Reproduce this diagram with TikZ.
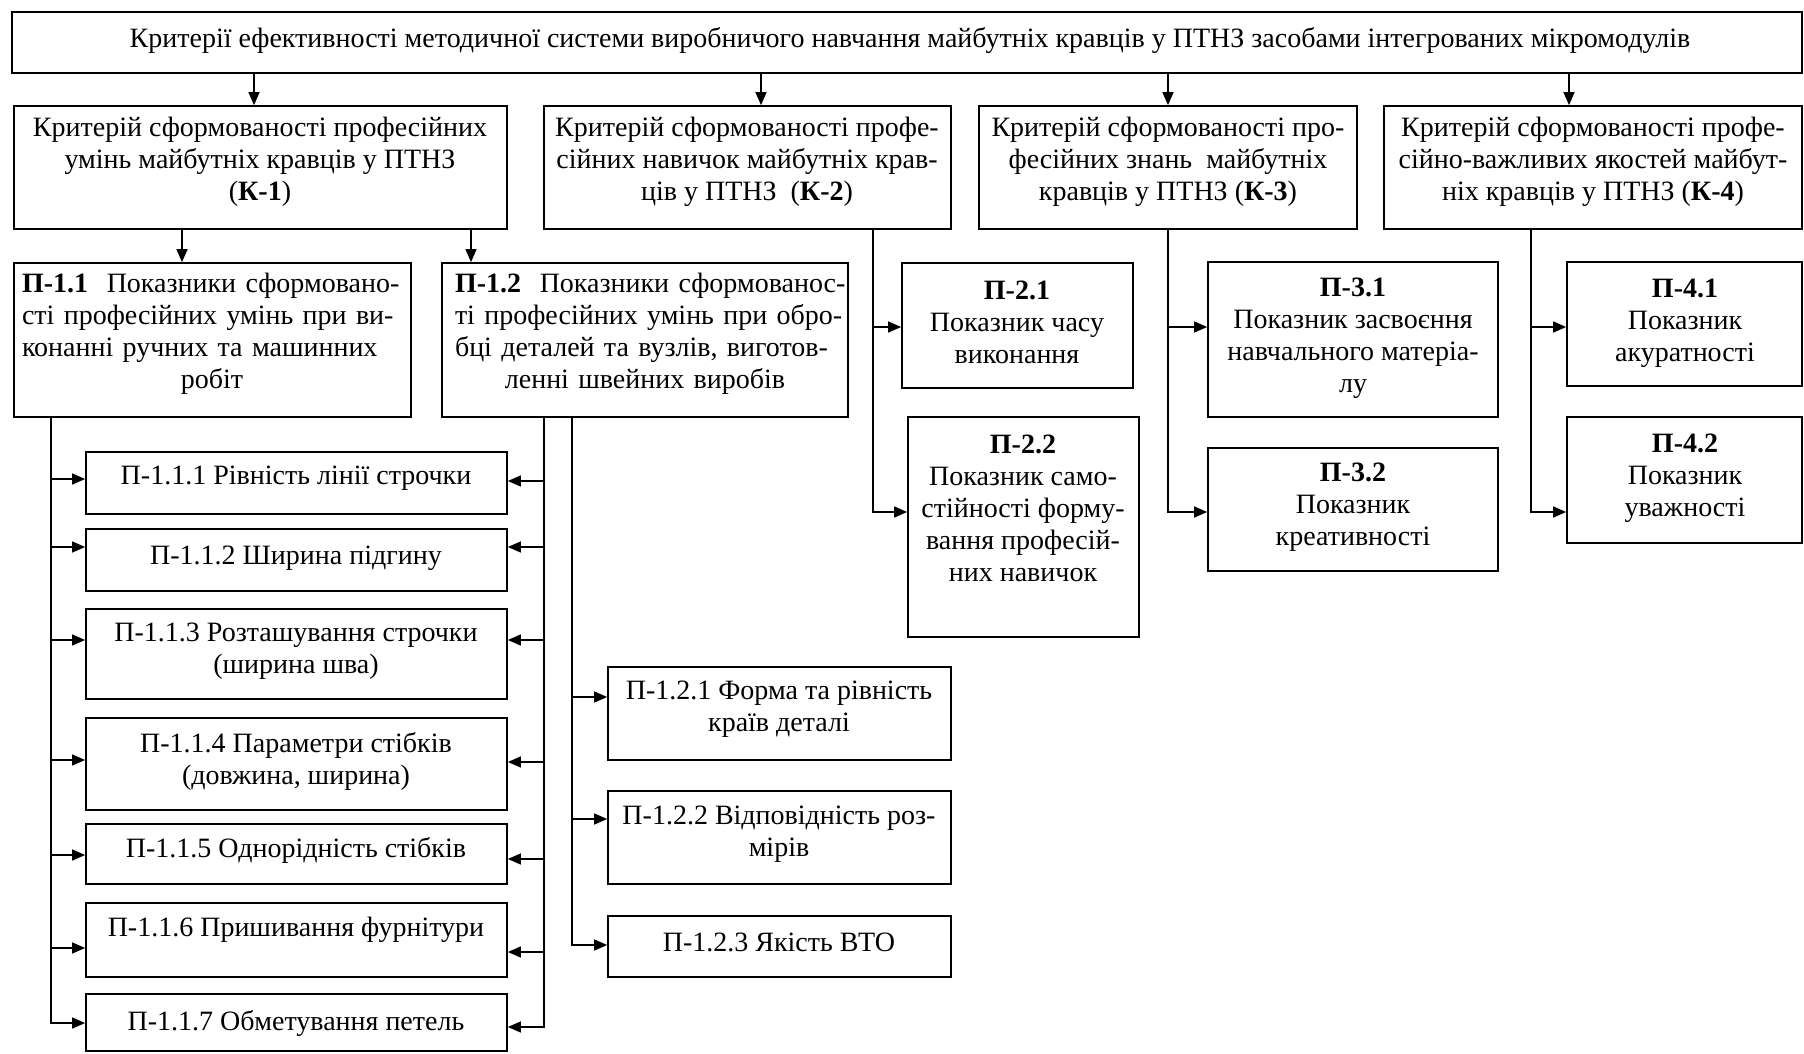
\documentclass[tikz,border=0pt]{standalone}
\usepackage{fontspec}
\setmainfont{Liberation Serif}
\usetikzlibrary{arrows.meta,fit}
\tikzset{
  boxf/.style={draw, line width=0.85pt, inner sep=0pt},
  txt/.style={font=\fontsize{14}{16}\selectfont, align=center, inner sep=0pt},
  jtxt/.style={txt, text width=190pt},
  arr/.style={line width=0.7pt, -{Triangle[length=6.5pt,width=5.5pt]}},
}
\begin{document}
\begin{tikzpicture}[x=0.5pt,y=-0.5pt]
\useasboundingbox (0,0) rectangle (1804,1054);
\fill[white] (0,0) rectangle (1804,1054);
% boxes
\node[boxf, fit={(12,12) (1802,73)}] (top) {};
\node[boxf, fit={(14,106) (507,229)}] (K1) {};
\node[boxf, fit={(544,106) (951,229)}] (K2) {};
\node[boxf, fit={(979,106) (1357,229)}] (K3) {};
\node[boxf, fit={(1384,106) (1802,229)}] (K4) {};
\node[boxf, fit={(14,263) (411,417)}] (P11) {};
\node[boxf, fit={(442,263) (848,417)}] (P12) {};
\node[boxf, fit={(902,263) (1133,388)}] (P21) {};
\node[boxf, fit={(908,417) (1139,637)}] (P22) {};
\node[boxf, fit={(1208,262) (1498,417)}] (P31) {};
\node[boxf, fit={(1208,448) (1498,571)}] (P32) {};
\node[boxf, fit={(1567,262) (1802,386)}] (P41) {};
\node[boxf, fit={(1567,417) (1802,543)}] (P42) {};
\node[boxf, fit={(86,452) (507,514)}] (P111) {};
\node[boxf, fit={(86,529) (507,591)}] (P112) {};
\node[boxf, fit={(86,609) (507,699)}] (P113) {};
\node[boxf, fit={(86,718) (507,810)}] (P114) {};
\node[boxf, fit={(86,824) (507,884)}] (P115) {};
\node[boxf, fit={(86,903) (507,977)}] (P116) {};
\node[boxf, fit={(86,994) (507,1051)}] (P117) {};
\node[boxf, fit={(608,667) (951,760)}] (P121) {};
\node[boxf, fit={(608,791) (951,884)}] (P122) {};
\node[boxf, fit={(608,916) (951,977)}] (P123) {};
% texts
\node[txt] (ttop) at (910,41) {Критерії ефективності методичної системи виробничого навчання майбутніх кравців у ПТНЗ засобами інтегрованих мікромодулів};
\node[txt] (tK1) at (260,162) {Критерій сформованості професійних\\умінь майбутніх кравців у ПТНЗ\\(\textbf{К-1})};
\node[txt] (tK2) at (747,162) {Критерій сформованості профе-\\сійних навичок майбутніх крав-\\ців у ПТНЗ~~(\textbf{К-2})};
\node[txt] (tK3) at (1168,162) {Критерій сформованості про-\\фесійних знань~~майбутніх\\кравців у ПТНЗ (\textbf{К-3})};
\node[txt] (tK4) at (1593,162) {Критерій сформованості профе-\\сійно-важливих якостей майбут-\\ніх кравців у ПТНЗ (\textbf{К-4})};
\node[jtxt] (tP11) at (212,334) {\makebox[\linewidth][s]{\textbf{П-1.1}~~Показники сформовано-}\\\makebox[\linewidth][s]{сті професійних умінь при ви-}\\\makebox[\linewidth][s]{конанні ручних та машинних}\\робіт};
\node[jtxt] (tP12) at (645,334) {\makebox[\linewidth][s]{\textbf{П-1.2}~~Показники сформованос-}\\\makebox[\linewidth][s]{ті професійних умінь при обро-}\\\makebox[\linewidth][s]{бці деталей та вузлів, виготов-}\\ленні швейних виробів};
\node[txt] (tP21) at (1017,322) {\textbf{П-2.1}\\Показник часу\\виконання};
\node[txt] (tP22) at (1023,508) {\textbf{П-2.2}\\Показник само-\\стійності форму-\\вання професій-\\них навичок};
\node[txt] (tP31) at (1353,338) {\textbf{П-3.1}\\Показник засвоєння\\навчального матеріа-\\лу};
\node[txt] (tP32) at (1353,507) {\textbf{П-3.2}\\Показник\\креативності};
\node[txt] (tP41) at (1685,323) {\textbf{П-4.1}\\Показник\\акуратності};
\node[txt] (tP42) at (1685,478) {\textbf{П-4.2}\\Показник\\уважності};
\node[txt] (tP111) at (296,478) {П-1.1.1 Рівність лінії строчки};
\node[txt] (tP112) at (296,558) {П-1.1.2 Ширина підгину};
\node[txt] (tP113) at (296,651) {П-1.1.3 Розташування строчки\\(ширина шва)};
\node[txt] (tP114) at (296,761) {П-1.1.4 Параметри стібків\\(довжина, ширина)};
\node[txt] (tP115) at (296,850) {П-1.1.5 Однорідність стібків};
\node[txt] (tP116) at (296,930) {П-1.1.6 Пришивання фурнітури};
\node[txt] (tP117) at (296,1023) {П-1.1.7 Обметування петель};
\node[txt] (tP121) at (779,709) {П-1.2.1 Форма та рівність\\країв деталі};
\node[txt] (tP122) at (779,834) {П-1.2.2 Відповідність роз-\\мірів};
\node[txt] (tP123) at (779,942) {П-1.2.3 Якість ВТО};
% connector coordinates
\coordinate (c1) at (254,0);
\coordinate (c2) at (761,0);
\coordinate (c3) at (1168,0);
\coordinate (c4) at (1569,0);
\coordinate (c5) at (182,0);
\coordinate (c6) at (471,0);
\coordinate (b2a) at (873,327);
\coordinate (b2b) at (873,512);
\coordinate (b3a) at (1168,327);
\coordinate (b3b) at (1168,512);
\coordinate (b4a) at (1531,327);
\coordinate (b4b) at (1531,512);
\coordinate (L1) at (51,479);
\coordinate (L2) at (51,547);
\coordinate (L3) at (51,640);
\coordinate (L4) at (51,760);
\coordinate (L5) at (51,855);
\coordinate (L6) at (51,948);
\coordinate (L7) at (51,1023);
\coordinate (R1) at (544,481);
\coordinate (R2) at (544,547);
\coordinate (R3) at (544,640);
\coordinate (R4) at (544,762);
\coordinate (R5) at (544,859);
\coordinate (R6) at (544,952);
\coordinate (R7) at (544,1027);
\coordinate (S1) at (572,697);
\coordinate (S2) at (572,819);
\coordinate (S3) at (572,945);
% connectors
\draw[arr] (top.south -| c1) -- (K1.north -| c1);
\draw[arr] (top.south -| c2) -- (K2.north -| c2);
\draw[arr] (top.south -| c3) -- (K3.north -| c3);
\draw[arr] (top.south -| c4) -- (K4.north -| c4);
\draw[arr] (K1.south -| c5) -- (P11.north -| c5);
\draw[arr] (K1.south -| c6) -- (P12.north -| c6);
\draw[arr] (K2.south -| b2a) |- (P21.west |- b2a);
\draw[arr] (K2.south -| b2b) |- (P22.west |- b2b);
\draw[arr] (K3.south -| b3a) |- (P31.west |- b3a);
\draw[arr] (K3.south -| b3b) |- (P32.west |- b3b);
\draw[arr] (K4.south -| b4a) |- (P41.west |- b4a);
\draw[arr] (K4.south -| b4b) |- (P42.west |- b4b);
\draw[arr] (P11.south -| L1) |- (P111.west |- L1);
\draw[arr] (P11.south -| L2) |- (P112.west |- L2);
\draw[arr] (P11.south -| L3) |- (P113.west |- L3);
\draw[arr] (P11.south -| L4) |- (P114.west |- L4);
\draw[arr] (P11.south -| L5) |- (P115.west |- L5);
\draw[arr] (P11.south -| L6) |- (P116.west |- L6);
\draw[arr] (P11.south -| L7) |- (P117.west |- L7);
\draw[arr] (P12.south -| R1) |- (P111.east |- R1);
\draw[arr] (P12.south -| R2) |- (P112.east |- R2);
\draw[arr] (P12.south -| R3) |- (P113.east |- R3);
\draw[arr] (P12.south -| R4) |- (P114.east |- R4);
\draw[arr] (P12.south -| R5) |- (P115.east |- R5);
\draw[arr] (P12.south -| R6) |- (P116.east |- R6);
\draw[arr] (P12.south -| R7) |- (P117.east |- R7);
\draw[arr] (P12.south -| S1) |- (P121.west |- S1);
\draw[arr] (P12.south -| S2) |- (P122.west |- S2);
\draw[arr] (P12.south -| S3) |- (P123.west |- S3);
\end{tikzpicture}
\end{document}
